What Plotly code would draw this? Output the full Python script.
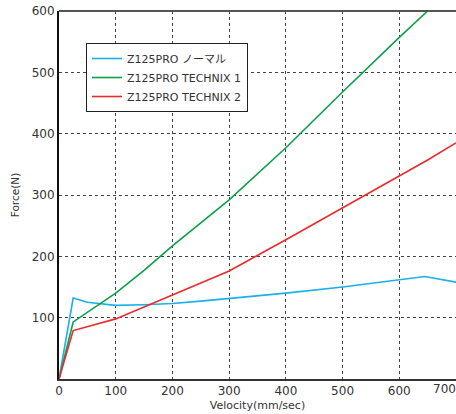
import plotly.graph_objects as go

velocity_normal = [0, 25, 50, 100, 150, 200, 250, 300, 400, 500, 600, 645, 700]
force_normal = [0, 132, 125, 120, 121, 123, 127, 131, 140, 150, 161, 167, 158]

velocity_t1 = [0, 25, 100, 150, 200, 300, 400, 500, 600, 650]
force_t1 = [0, 93, 140, 177, 217, 292, 377, 468, 557, 600]

velocity_t2 = [0, 25, 100, 200, 300, 400, 500, 600, 650, 700]
force_t2 = [0, 79, 98, 137, 176, 227, 279, 332, 357, 385]

names = ["Z125PRO ノーマル", "Z125PRO TECHNIX 1", "Z125PRO TECHNIX 2"]
colors = ["#1ab0e8", "#0aa04a", "#ee2a2a"]

x_ticks = [0, 100, 200, 300, 400, 500, 600, 700]
y_ticks = [100, 200, 300, 400, 500, 600]

fig = go.Figure()
for xs, ys, n, c in [(velocity_normal, force_normal, names[0], colors[0]),
                     (velocity_t1, force_t1, names[1], colors[1]),
                     (velocity_t2, force_t2, names[2], colors[2])]:
    fig.add_trace(go.Scatter(x=xs, y=ys, mode="lines", name=n,
                             line=dict(color=c, width=1.6)))

font_family = "DejaVu Sans, Noto Sans CJK JP, sans-serif"
fig.update_layout(
    width=456, height=414,
    margin=dict(l=59, r=0, t=11, b=35),
    paper_bgcolor="white", plot_bgcolor="white",
    font=dict(family=font_family, size=12, color="#333"),
    showlegend=True,
    legend=dict(x=0.068, y=0.913, xanchor="left", yanchor="top",
                bgcolor="white", bordercolor="#222", borderwidth=1,
                itemwidth=30,
                font=dict(size=11, color="#333"), tracegroupgap=0),
    xaxis=dict(range=[0, 700], tickvals=x_ticks[:-1], showgrid=True,
               gridcolor="#444", griddash="dot", gridwidth=1,
               showline=True, linecolor="#333", linewidth=2,
               ticks="", zeroline=False,
               title=dict(text="Velocity(mm/sec)", font=dict(size=11), standoff=4)),
    yaxis=dict(range=[0, 600], tickvals=y_ticks, showgrid=True,
               gridcolor="#444", griddash="dot", gridwidth=1,
               showline=True, linecolor="#111", linewidth=2,
               ticks="", zeroline=False,
               title=dict(text="Force(N)", font=dict(size=10.5), standoff=10)),
)
fig.add_shape(type="line", xref="paper", yref="paper", x0=0, x1=1, y0=1, y1=1,
              line=dict(color="#555", width=2))
fig.add_annotation(x=x_ticks[-1], y=0, xref="x", yref="y", text=str(x_ticks[-1]),
                   showarrow=False, yanchor="top", yshift=-1, xshift=-12,
                   font=dict(size=12, color="#333"))
fig.write_html("out.html", config={"displayModeBar": False},
               post_script="document.body.style.margin='0';")
